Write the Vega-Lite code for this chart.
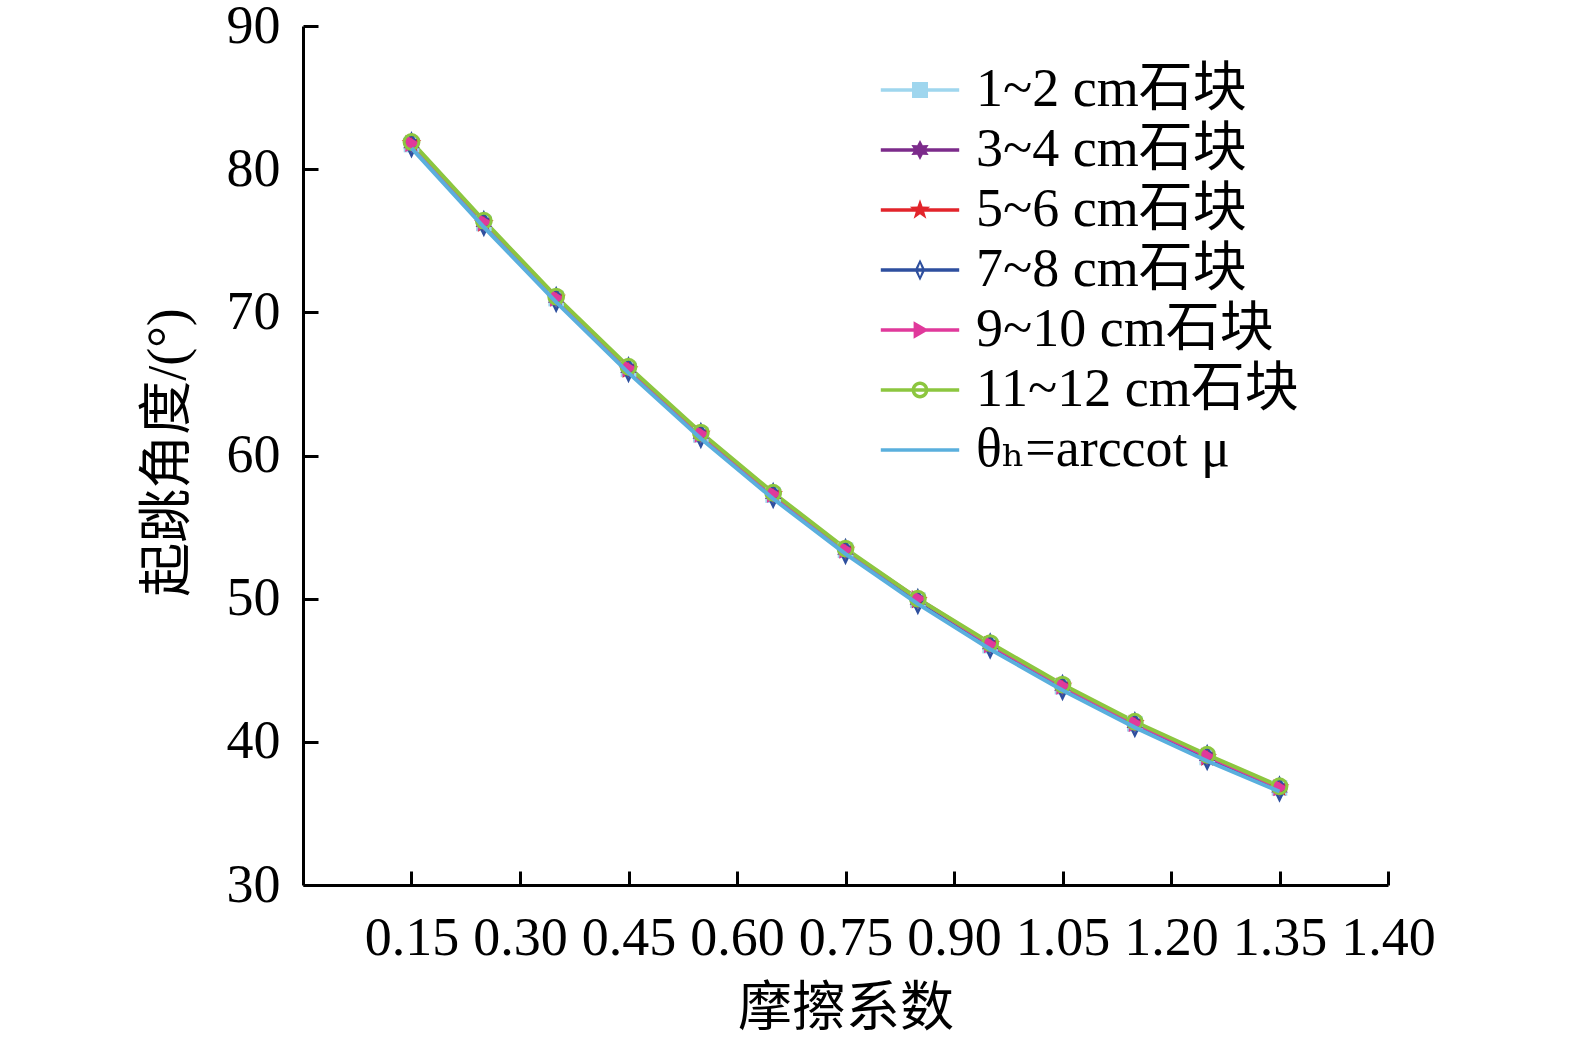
{
  "$schema": "https://vega.github.io/schema/vega-lite/v6.json",
  "width": 1085,
  "height": 859,
  "autosize": {"type": "none"},
  "padding": {"left": 303, "top": 26, "right": 187, "bottom": 159},
  "background": "white",
  "config": {
    "font": "Liberation Serif, DejaVu Serif, Noto Sans CJK SC",
    "view": {"stroke": null},
    "axis": {
      "grid": false,
      "domainColor": "black",
      "domainWidth": 3,
      "tickColor": "black",
      "tickWidth": 3,
      "labelColor": "black",
      "labelFont": "Liberation Serif, DejaVu Serif, Noto Sans CJK SC",
      "labelFontSize": 54,
      "labelOverlap": false,
      "labelFlush": false,
      "labelBound": false,
      "titleColor": "black",
      "titleFont": "Liberation Serif, Noto Sans CJK SC",
      "titleFontSize": 54,
      "titleFontWeight": "normal"
    }
  },
  "data": {
    "values": [
      {"mu": 0.15, "angle": 81.72, "series": "1~2 cm石块"},
      {"mu": 0.25, "angle": 76.21, "series": "1~2 cm石块"},
      {"mu": 0.35, "angle": 70.96, "series": "1~2 cm石块"},
      {"mu": 0.45, "angle": 66.02, "series": "1~2 cm石块"},
      {"mu": 0.55, "angle": 61.44, "series": "1~2 cm石块"},
      {"mu": 0.65, "angle": 57.23, "series": "1~2 cm石块"},
      {"mu": 0.75, "angle": 53.38, "series": "1~2 cm石块"},
      {"mu": 0.85, "angle": 49.89, "series": "1~2 cm石块"},
      {"mu": 0.95, "angle": 46.72, "series": "1~2 cm石块"},
      {"mu": 1.05, "angle": 43.85, "series": "1~2 cm石块"},
      {"mu": 1.15, "angle": 41.26, "series": "1~2 cm石块"},
      {"mu": 1.25, "angle": 38.91, "series": "1~2 cm石块"},
      {"mu": 1.35, "angle": 36.78, "series": "1~2 cm石块"},
      {"mu": 0.15, "angle": 81.8, "series": "3~4 cm石块"},
      {"mu": 0.25, "angle": 76.3, "series": "3~4 cm石块"},
      {"mu": 0.35, "angle": 71.0, "series": "3~4 cm石块"},
      {"mu": 0.45, "angle": 66.1, "series": "3~4 cm石块"},
      {"mu": 0.55, "angle": 61.5, "series": "3~4 cm石块"},
      {"mu": 0.65, "angle": 57.3, "series": "3~4 cm石块"},
      {"mu": 0.75, "angle": 53.4, "series": "3~4 cm石块"},
      {"mu": 0.85, "angle": 49.9, "series": "3~4 cm石块"},
      {"mu": 0.95, "angle": 46.8, "series": "3~4 cm石块"},
      {"mu": 1.05, "angle": 43.9, "series": "3~4 cm石块"},
      {"mu": 1.15, "angle": 41.3, "series": "3~4 cm石块"},
      {"mu": 1.25, "angle": 39.0, "series": "3~4 cm石块"},
      {"mu": 1.35, "angle": 36.8, "series": "3~4 cm石块"},
      {"mu": 0.15, "angle": 81.8, "series": "5~6 cm石块"},
      {"mu": 0.25, "angle": 76.2, "series": "5~6 cm石块"},
      {"mu": 0.35, "angle": 71.0, "series": "5~6 cm石块"},
      {"mu": 0.45, "angle": 66.0, "series": "5~6 cm石块"},
      {"mu": 0.55, "angle": 61.5, "series": "5~6 cm石块"},
      {"mu": 0.65, "angle": 57.3, "series": "5~6 cm石块"},
      {"mu": 0.75, "angle": 53.4, "series": "5~6 cm石块"},
      {"mu": 0.85, "angle": 49.9, "series": "5~6 cm石块"},
      {"mu": 0.95, "angle": 46.8, "series": "5~6 cm石块"},
      {"mu": 1.05, "angle": 43.9, "series": "5~6 cm石块"},
      {"mu": 1.15, "angle": 41.3, "series": "5~6 cm石块"},
      {"mu": 1.25, "angle": 38.9, "series": "5~6 cm石块"},
      {"mu": 1.35, "angle": 36.8, "series": "5~6 cm石块"},
      {"mu": 0.15, "angle": 81.7, "series": "7~8 cm石块"},
      {"mu": 0.25, "angle": 76.2, "series": "7~8 cm石块"},
      {"mu": 0.35, "angle": 70.9, "series": "7~8 cm石块"},
      {"mu": 0.45, "angle": 66.0, "series": "7~8 cm石块"},
      {"mu": 0.55, "angle": 61.4, "series": "7~8 cm石块"},
      {"mu": 0.65, "angle": 57.2, "series": "7~8 cm石块"},
      {"mu": 0.75, "angle": 53.3, "series": "7~8 cm石块"},
      {"mu": 0.85, "angle": 49.8, "series": "7~8 cm石块"},
      {"mu": 0.95, "angle": 46.7, "series": "7~8 cm石块"},
      {"mu": 1.05, "angle": 43.8, "series": "7~8 cm石块"},
      {"mu": 1.15, "angle": 41.2, "series": "7~8 cm石块"},
      {"mu": 1.25, "angle": 38.9, "series": "7~8 cm石块"},
      {"mu": 1.35, "angle": 36.7, "series": "7~8 cm石块"},
      {"mu": 0.15, "angle": 81.8, "series": "9~10 cm石块"},
      {"mu": 0.25, "angle": 76.3, "series": "9~10 cm石块"},
      {"mu": 0.35, "angle": 71.0, "series": "9~10 cm石块"},
      {"mu": 0.45, "angle": 66.1, "series": "9~10 cm石块"},
      {"mu": 0.55, "angle": 61.5, "series": "9~10 cm石块"},
      {"mu": 0.65, "angle": 57.3, "series": "9~10 cm石块"},
      {"mu": 0.75, "angle": 53.4, "series": "9~10 cm石块"},
      {"mu": 0.85, "angle": 50.0, "series": "9~10 cm石块"},
      {"mu": 0.95, "angle": 46.8, "series": "9~10 cm石块"},
      {"mu": 1.05, "angle": 43.9, "series": "9~10 cm石块"},
      {"mu": 1.15, "angle": 41.3, "series": "9~10 cm石块"},
      {"mu": 1.25, "angle": 39.0, "series": "9~10 cm石块"},
      {"mu": 1.35, "angle": 36.8, "series": "9~10 cm石块"},
      {"mu": 0.15, "angle": 81.9, "series": "11~12 cm石块"},
      {"mu": 0.25, "angle": 76.4, "series": "11~12 cm石块"},
      {"mu": 0.35, "angle": 71.1, "series": "11~12 cm石块"},
      {"mu": 0.45, "angle": 66.2, "series": "11~12 cm石块"},
      {"mu": 0.55, "angle": 61.6, "series": "11~12 cm石块"},
      {"mu": 0.65, "angle": 57.4, "series": "11~12 cm石块"},
      {"mu": 0.75, "angle": 53.5, "series": "11~12 cm石块"},
      {"mu": 0.85, "angle": 50.0, "series": "11~12 cm石块"},
      {"mu": 0.95, "angle": 46.9, "series": "11~12 cm石块"},
      {"mu": 1.05, "angle": 44.0, "series": "11~12 cm石块"},
      {"mu": 1.15, "angle": 41.4, "series": "11~12 cm石块"},
      {"mu": 1.25, "angle": 39.1, "series": "11~12 cm石块"},
      {"mu": 1.35, "angle": 36.9, "series": "11~12 cm石块"},
      {"mu": 0.15, "angle": 81.47, "series": "θₕ=arccot μ"},
      {"mu": 0.25, "angle": 75.96, "series": "θₕ=arccot μ"},
      {"mu": 0.35, "angle": 70.71, "series": "θₕ=arccot μ"},
      {"mu": 0.45, "angle": 65.77, "series": "θₕ=arccot μ"},
      {"mu": 0.55, "angle": 61.19, "series": "θₕ=arccot μ"},
      {"mu": 0.65, "angle": 56.98, "series": "θₕ=arccot μ"},
      {"mu": 0.75, "angle": 53.13, "series": "θₕ=arccot μ"},
      {"mu": 0.85, "angle": 49.64, "series": "θₕ=arccot μ"},
      {"mu": 0.95, "angle": 46.47, "series": "θₕ=arccot μ"},
      {"mu": 1.05, "angle": 43.6, "series": "θₕ=arccot μ"},
      {"mu": 1.15, "angle": 41.01, "series": "θₕ=arccot μ"},
      {"mu": 1.25, "angle": 38.66, "series": "θₕ=arccot μ"},
      {"mu": 1.35, "angle": 36.53, "series": "θₕ=arccot μ"}
    ]
  },
  "encoding": {
    "x": {
      "field": "mu",
      "type": "quantitative",
      "scale": {"domain": [0, 1.5], "nice": false, "zero": false},
      "axis": {
        "title": "摩擦系数",
        "values": [0.15, 0.3, 0.45, 0.6, 0.75, 0.9, 1.05, 1.2, 1.35, 1.5],
        "labelExpr": "datum.value > 1.45 ? '1.40' : format(datum.value, '.2f')",
        "tickSize": -14,
        "labelPadding": 40,
        "titleY": 140,
        "titleBaseline": "alphabetic"
      }
    },
    "y": {
      "field": "angle",
      "type": "quantitative",
      "scale": {"domain": [30, 90], "nice": false, "zero": false},
      "axis": {
        "title": "起跳角度/(°)",
        "values": [30, 40, 50, 60, 70, 80, 90],
        "tickSize": -15,
        "labelPadding": 38,
        "titleX": -135,
        "titleY": 426,
        "titleBaseline": "middle",
        "titleAlign": "center"
      }
    },
    "color": {
      "field": "series",
      "type": "nominal",
      "scale": {
        "domain": ["1~2 cm石块", "3~4 cm石块", "5~6 cm石块", "7~8 cm石块", "9~10 cm石块", "11~12 cm石块", "θₕ=arccot μ"],
        "range": ["#9fd6ee", "#7c2b8b", "#e2242b", "#2e4f9e", "#e0399b", "#8cc63f", "#5aafdd"]
      },
      "legend": null
    }
  },
  "layer": [
    {
      "transform": [{"filter": "false"}],
      "mark": {"type": "point", "filled": true, "opacity": 1},
      "encoding": {
        "color": {
          "field": "series",
          "type": "nominal",
          "legend": {
            "title": null,
            "orient": "none",
            "direction": "vertical",
            "legendX": 590,
            "legendY": 37,
            "padding": 0,
            "labelFont": "Liberation Serif, DejaVu Serif, Noto Sans CJK SC",
            "labelFontSize": 54,
            "labelColor": "black",
            "labelLimit": 500,
            "labelOffset": 29,
            "rowPadding": 6,
            "symbolSize": 256,
            "symbolStrokeWidth": 0,
            "symbolOpacity": 1
          }
        },
        "shape": {
          "field": "series",
          "type": "nominal",
          "scale": {
            "domain": ["1~2 cm石块", "3~4 cm石块", "5~6 cm石块", "7~8 cm石块", "9~10 cm石块", "11~12 cm石块", "θₕ=arccot μ"],
            "range": [
              "M-4.9,-0.22H4.9V0.22H-4.9ZM-1,-1H1V1H-1Z",
              "M-4.9,-0.22H4.9V0.22H-4.9ZM0,-1.25L0.34,-0.59L1.08,-0.62L0.68,0L1.08,0.62L0.34,0.59L0,1.25L-0.34,0.59L-1.08,0.62L-0.68,0L-1.08,-0.62L-0.34,-0.59Z",
              "M-4.9,-0.22H4.9V0.22H-4.9ZM0,-1.35L0.317,-0.437L1.284,-0.417L0.513,0.167L0.793,1.092L0,0.54L-0.793,1.092L-0.513,0.167L-1.284,-0.417L-0.317,-0.437Z",
              "M-4.9,-0.22H4.9V0.22H-4.9ZM0,-1.35L0.65,0L0,1.35L-0.65,0ZM0,-0.78L-0.3,0L0,0.78L0.3,0Z",
              "M-4.9,-0.22H4.9V0.22H-4.9ZM-0.8,-1.1L1.1,0L-0.8,1.1Z",
              "M-4.9,-0.22H4.9V0.22H-4.9ZM1.05,0A1.05,1.05,0,1,1,-1.05,0A1.05,1.05,0,1,1,1.05,0ZM0.62,0A0.62,0.62,0,1,0,-0.62,0A0.62,0.62,0,1,0,0.62,0Z",
              "M-4.9,-0.22H4.9V0.22H-4.9Z"
            ]
          },
          "legend": {
            "title": null,
            "orient": "none",
            "direction": "vertical",
            "legendX": 590,
            "legendY": 37,
            "padding": 0,
            "labelFont": "Liberation Serif, DejaVu Serif, Noto Sans CJK SC",
            "labelFontSize": 54,
            "labelColor": "black",
            "labelLimit": 500,
            "labelOffset": 29,
            "rowPadding": 6,
            "symbolSize": 256,
            "symbolStrokeWidth": 0,
            "symbolOpacity": 1
          }
        }
      }
    },
    {
      "transform": [{"filter": "datum.series !== 'θₕ=arccot μ'"}],
      "mark": {"type": "line", "strokeWidth": 4},
      "encoding": {}
    },
    {
      "transform": [{"filter": "datum.series === '1~2 cm石块'"}],
      "mark": {"type": "point", "shape": "M-0.9,-0.9H0.9V0.9H-0.9Z", "size": 300, "filled": true, "opacity": 1},
      "encoding": {"color": {"value": "#9fd6ee"}}
    },
    {
      "transform": [{"filter": "datum.series === '3~4 cm石块'"}],
      "mark": {"type": "point", "shape": "M0,-1.1L0.3,-0.52L0.953,-0.55L0.6,0L0.953,0.55L0.3,0.52L0,1.1L-0.3,0.52L-0.953,0.55L-0.6,0L-0.953,-0.55L-0.3,-0.52Z", "size": 300, "filled": true, "opacity": 1},
      "encoding": {"color": {"value": "#7c2b8b"}}
    },
    {
      "transform": [{"filter": "datum.series === '5~6 cm石块'"}],
      "mark": {"type": "point", "shape": "M0,-1.2L0.282,-0.388L1.141,-0.371L0.456,0.148L0.705,0.971L0,0.48L-0.705,0.971L-0.456,0.148L-1.141,-0.371L-0.282,-0.388Z", "size": 300, "filled": true, "opacity": 1},
      "encoding": {"color": {"value": "#e2242b"}}
    },
    {
      "transform": [{"filter": "datum.series === '7~8 cm石块'"}],
      "mark": {"type": "point", "shape": "M0,-1.25L0.6,0L0,1.25L-0.6,0Z", "size": 300, "filled": false, "strokeWidth": 2.5, "opacity": 1},
      "encoding": {"color": {"value": "#2e4f9e"}}
    },
    {
      "transform": [{"filter": "datum.series === '9~10 cm石块'"}],
      "mark": {"type": "point", "shape": "M-0.7,-1L1,0L-0.7,1Z", "size": 300, "filled": true, "opacity": 1},
      "encoding": {"color": {"value": "#e0399b"}}
    },
    {
      "transform": [{"filter": "datum.series === '11~12 cm石块'"}],
      "mark": {"type": "point", "shape": "circle", "size": 220, "filled": false, "strokeWidth": 3, "opacity": 1},
      "encoding": {"color": {"value": "#8cc63f"}}
    },
    {
      "transform": [{"filter": "datum.series === 'θₕ=arccot μ'"}],
      "mark": {"type": "line", "strokeWidth": 4},
      "encoding": {}
    }
  ]
}
